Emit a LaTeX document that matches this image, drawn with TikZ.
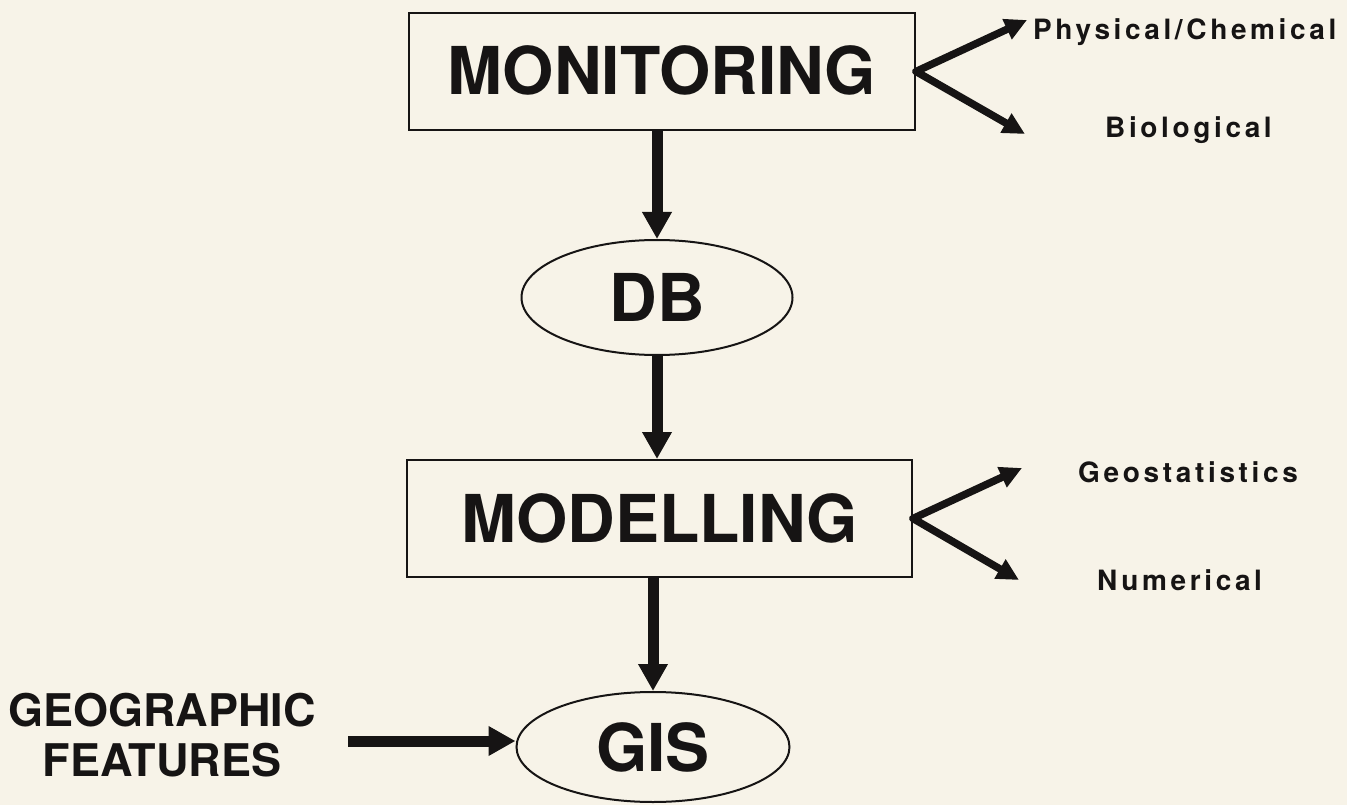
\documentclass[tikz,border=0pt]{standalone}
\usepackage{fontspec}
\setmainfont{TeX Gyre Heros}
\newfontfamily\spaced[LetterSpace=13]{TeX Gyre Heros}
\usetikzlibrary{shapes.geometric,arrows.meta}
\definecolor{paper}{RGB}{247,243,232}
\definecolor{ink}{RGB}{22,20,20}
\begin{document}
\begin{tikzpicture}[x=1pt,y=-1pt,
  box/.style={draw=ink, line width=2pt, rectangle, minimum width=506pt, minimum height=117pt,
    inner sep=0pt, text=ink, font=\fontsize{66}{70}\selectfont\bfseries},
  oval/.style={draw=ink, line width=2pt, ellipse, inner sep=0pt, text=ink,
    font=\fontsize{66}{70}\selectfont\bfseries},
  bigarrow/.style={draw=ink, line width=11pt, -{Triangle[length=27pt,width=28pt]}},
  smallarrow/.style={draw=ink, line width=7.5pt, line cap=round, -{Triangle[length=22pt,width=21pt]}},
  sidelabel/.style={inner sep=0pt, anchor=base west, text=ink,
    font=\spaced\fontsize{28}{30}\selectfont\bfseries},
  sourcelabel/.style={inner sep=0pt, align=center, text=ink,
    font=\fontsize{45}{50}\selectfont\bfseries}]
\fill[paper] (0,0) rectangle (1347,805);
\useasboundingbox (0,0) rectangle (1347,805);

\node[box] (mon) at (662,71.5) {\raisebox{3pt}{MONITORING}};
\node[oval, minimum width=271pt, minimum height=115pt] (db) at (657,297.5) {DB};
\node[box, minimum width=505pt] (mod) at (659.5,518.5) {MODELLING};
\node[oval, minimum width=273pt, minimum height=110pt] (gis) at (653,747) {GIS};
\node[sourcelabel] (geo) at (162,735) {GEOGRAPHIC\\FEATURES};

\node[sidelabel] (phys) at (1033,40) {Physical/Chemical};
\node[sidelabel] (bio) at (1105,138) {Biological};
\node[sidelabel] (geost) at (1078,482) {Geostatistics};
\node[sidelabel] (num) at (1097,590) {Numerical};

\coordinate (physTip) at (1027,20);
\coordinate (bioTip) at (1025,134);
\coordinate (geostTip) at (1022,468);
\coordinate (numTip) at (1019,580);
\coordinate (geoStart) at (348,741);

\draw[bigarrow] (db.north |- mon.south) -- (db.north);
\draw[bigarrow] (db.south) -- (db.south |- mod.north);
\draw[bigarrow] (gis.north |- mod.south) -- (gis.north);
\draw[bigarrow] (geoStart) -- (gis.west |- geoStart);

\draw[smallarrow] (mon.east) -- (physTip);
\draw[smallarrow] (mon.east) -- (bioTip);
\draw[smallarrow] (mod.east) -- (geostTip);
\draw[smallarrow] (mod.east) -- (numTip);
\end{tikzpicture}
\end{document}
